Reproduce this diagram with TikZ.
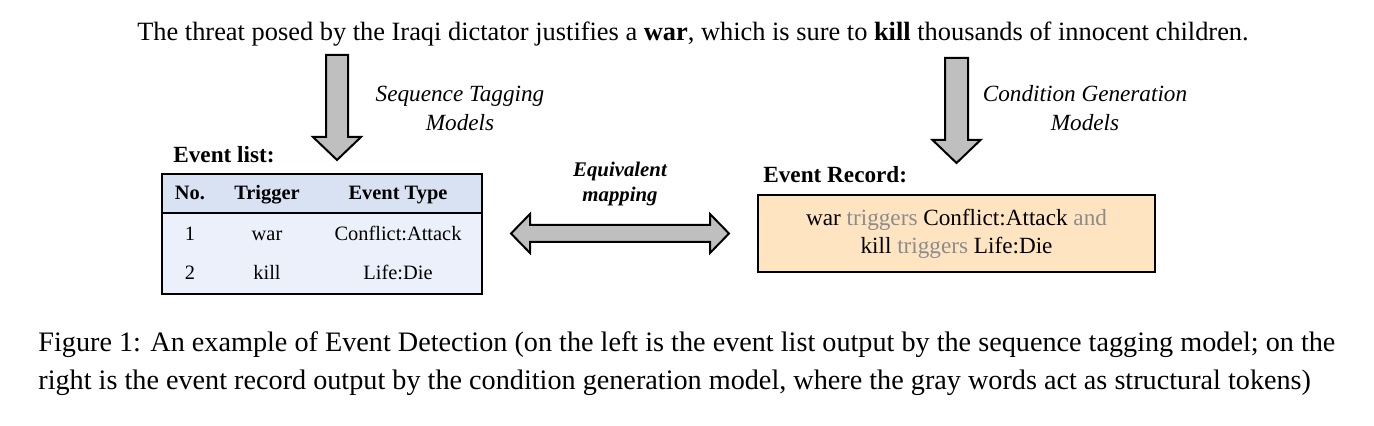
\documentclass[tikz,border=0pt]{standalone}
\usepackage{fontspec}
\setmainfont{Liberation Serif}
\usepackage{xcolor}
\definecolor{headblue}{HTML}{D9E2F3}
\definecolor{bodyblue}{HTML}{EBF0FA}
\definecolor{recpeach}{HTML}{FFE4C2}
\definecolor{arrgray}{HTML}{BFBFBF}
\definecolor{tokgray}{HTML}{8C8C8C}
\tikzset{
  blockarrow/.style={draw=black, fill=arrgray, line width=1pt, line join=miter},
  modeltext/.style={font=\fontsize{11.6}{14.5}\selectfont\itshape, align=center},
  tabtext/.style={font=\fontsize{10.2}{12}\selectfont, inner sep=0pt, text height=1.6ex, text depth=0.3ex},
  tabhead/.style={tabtext, font=\fontsize{10.2}{12}\selectfont\bfseries},
  heading/.style={font=\fontsize{11.6}{14}\selectfont\bfseries, anchor=west, inner sep=0pt},
}
\newcommand{\tok}[1]{\textcolor{tokgray}{#1}}

\begin{document}
\begin{tikzpicture}[x=0.5pt, y=-0.5pt]
  \useasboundingbox (0,0) rectangle (1374,426);
  % input sentence
  \node[font=\fontsize{13.2}{15}\selectfont, inner sep=0pt] (sent) at (693,34)
    {The threat posed by the Iraqi dictator justifies a \textbf{war}, which is sure to \textbf{kill} thousands of innocent children.};
  % model arrows (sentence -> outputs)
  \coordinate (la) at (337,55);
  \coordinate (ra) at (956.5,58);
  \draw[blockarrow] (la) ++(-11,0) -- ++(22,0) -- ++(0,82) -- ++(13,0) -- ++(-24,23)
    -- ++(-24,-23) -- ++(13,0) -- cycle;
  \draw[blockarrow] (ra) ++(-11.5,0) -- ++(23,0) -- ++(0,82) -- ++(12.5,0) -- ++(-24,23)
    -- ++(-24,-23) -- ++(12.5,0) -- cycle;
  \node[modeltext] (seqtag) at (460,108) {Sequence Tagging\\Models};
  \node[modeltext] (condgen) at (1085,108) {Condition Generation\\Models};

  % event list table
  \node[heading] (listlbl) at (173,155) {Event list:};
  \draw[fill=bodyblue, line width=0.75pt] (162,213) rectangle (482,294);
  \draw[fill=headblue, line width=0.75pt] (162,174) rectangle (482,213);
  \node[tabhead] (hno) at (190,194) {No.};
  \node[tabhead] (htrig) at (267,194) {Trigger};
  \node[tabhead] (htype) at (398,194) {Event Type};
  \node[tabtext] (no1) at (190,235) {1};
  \node[tabtext] (trig1) at (267,235) {war};
  \node[tabtext] (type1) at (398,235) {Conflict:Attack};
  \node[tabtext] (no2) at (190,274) {2};
  \node[tabtext] (trig2) at (267,274) {kill};
  \node[tabtext] (type2) at (398,274) {Life:Die};

  % equivalent mapping
  \node[font=\fontsize{10.4}{12.5}\selectfont\bfseries\itshape, align=center] (equiv) at (620,184.5)
    {Equivalent\\mapping};
  \coordinate (mapl) at (511,233.5);
  \draw[blockarrow] (mapl) -- ++(19,-19.5) -- ++(0,11) -- ++(180,0) -- ++(0,-11) -- ++(19,19.5)
    -- ++(-19,19.5) -- ++(0,-11) -- ++(-180,0) -- ++(0,11) -- cycle;

  % event record
  \node[draw, fill=recpeach, line width=1pt, minimum width=198.5pt, minimum height=38.5pt,
        align=center, font=\fontsize{11.6}{14}\selectfont] (record) at (956.5,233.5)
    {war \tok{triggers} Conflict:Attack \tok{and}\\kill \tok{triggers} Life:Die};
  \node[heading] (reclbl) at (763,175) {Event Record:};

  % caption
  \node[anchor=west, align=left, inner sep=0pt, font=\fontsize{14.1}{19}\selectfont] (cap) at (38,364)
    {Figure 1: An example of Event Detection (on the left is the event list output by the sequence tagging model; on the\\
     right is the event record output by the condition generation model, where the gray words act as structural tokens)};
\end{tikzpicture}
\end{document}
